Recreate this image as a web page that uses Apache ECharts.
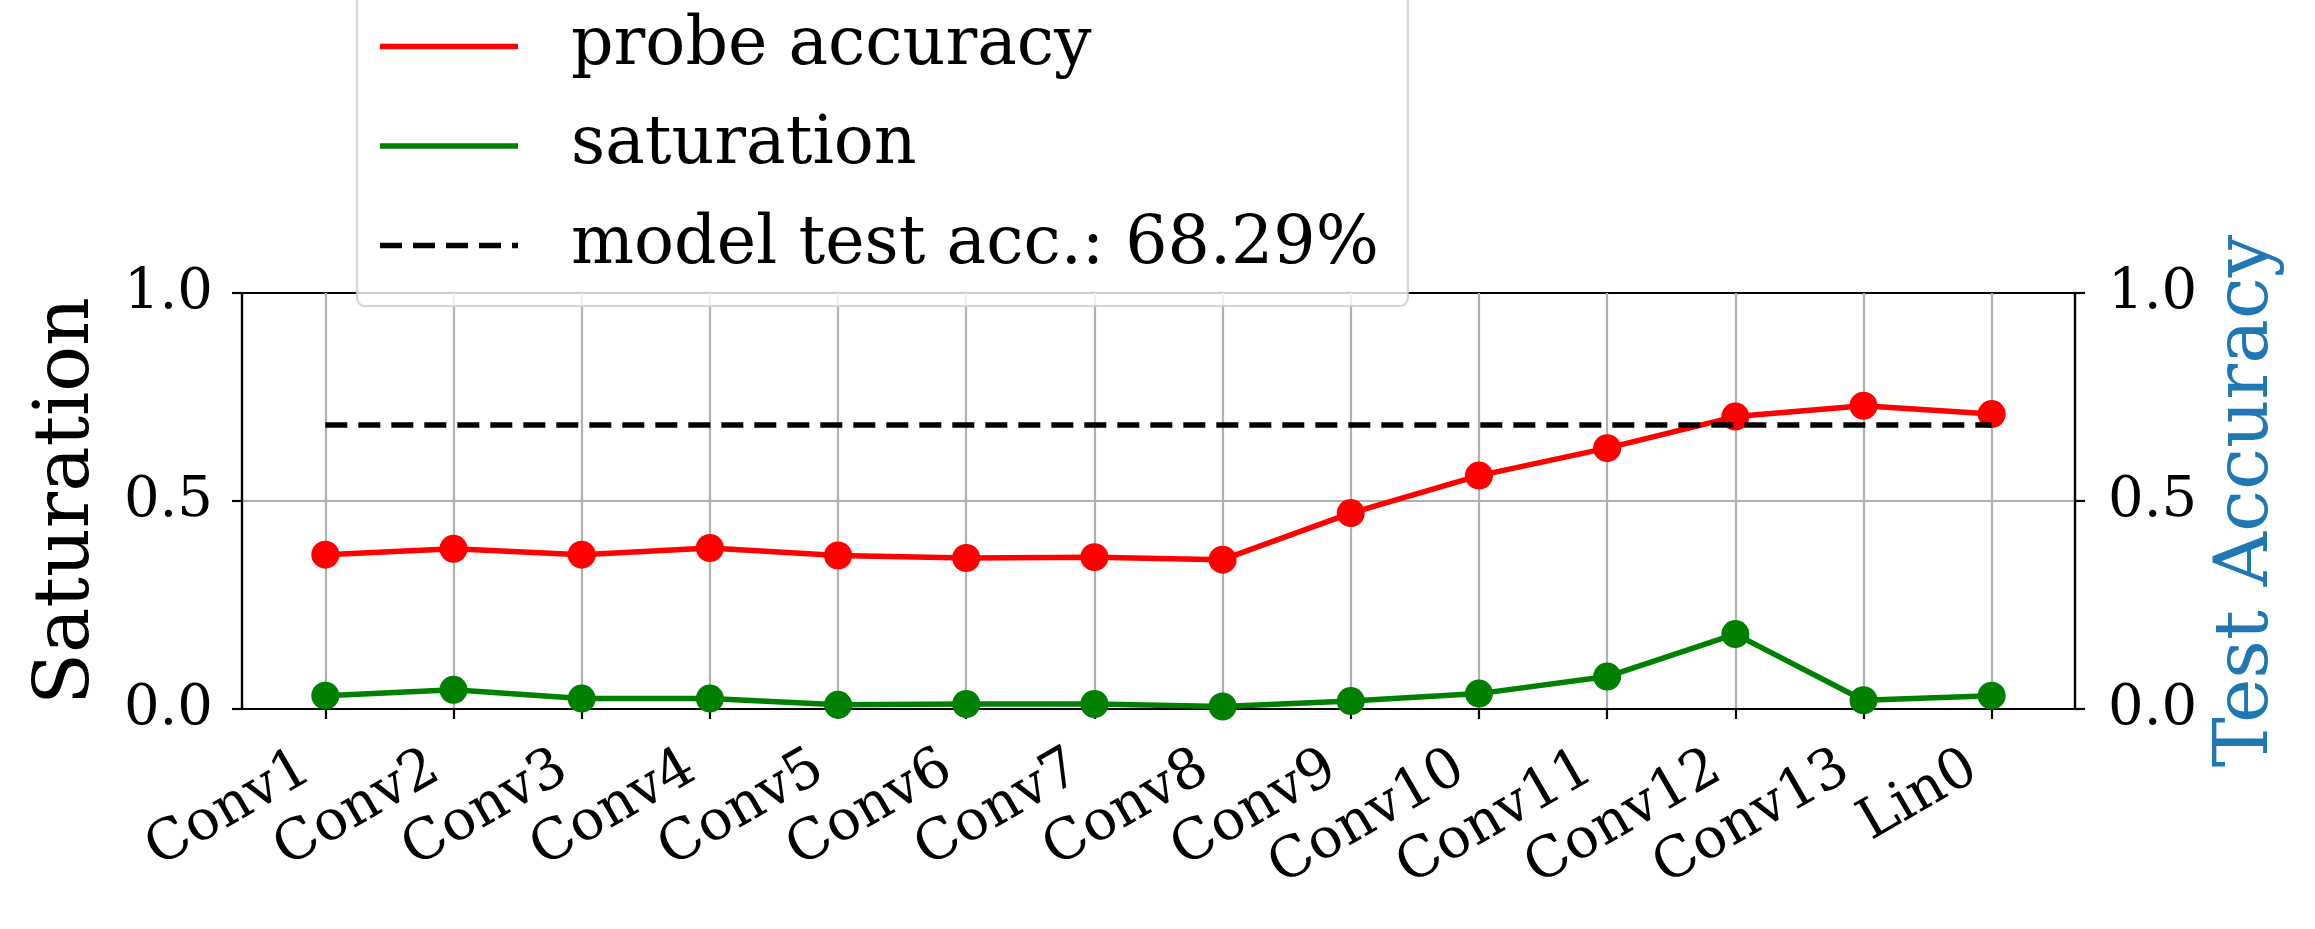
<!DOCTYPE html>
<html>
<head>
<meta charset="utf-8">
<script src="https://cdn.jsdelivr.net/npm/echarts@6/dist/echarts.min.js"></script>
<style>
html,body{margin:0;padding:0;background:#fff;}
#chart{width:2315px;height:929px;}
</style>
</head>
<body>
<div id="chart"></div>
<script>
const categories = ['Conv1','Conv2','Conv3','Conv4','Conv5','Conv6','Conv7','Conv8','Conv9','Conv10','Conv11','Conv12','Conv13','Lin0'];
const probeAccuracy = [0.371,0.385,0.371,0.387,0.369,0.363,0.365,0.359,0.471,0.561,0.627,0.703,0.729,0.709];
const saturation = [0.032,0.046,0.025,0.025,0.010,0.012,0.012,0.006,0.019,0.037,0.078,0.180,0.021,0.032];
const modelTestAcc = 0.6829;

const idx = categories.map((c, i) => i);
const FONT = 'DejaVu Serif';
const accName = 'model test acc.: ' + (modelTestAcc * 100).toFixed(2) + '%';

const chart = echarts.init(document.getElementById('chart'), null, {renderer: 'canvas'});
const option = {
  animation: false,
  backgroundColor: '#ffffff',
  grid: {
    left: 242, right: 240, top: 293, bottom: 220,
    show: true, borderColor: '#000', borderWidth: 2.2, backgroundColor: 'transparent'
  },
  legend: {
    orient: 'vertical',
    left: 357,
    top: -17,
    padding: [30, 29, 27, 23],
    itemWidth: 138,
    itemHeight: 5.5,
    itemGap: 32.5,
    backgroundColor: 'rgba(255,255,255,0.8)',
    borderColor: 'rgba(204,204,204,0.8)',
    borderWidth: 2.2,
    borderRadius: 8,
    selectedMode: false,
    z: 10,
    textStyle: {fontFamily: FONT, fontSize: 66.5, color: '#000', lineHeight: 66, padding: [0, 0, 0, 48]},
    data: [
      {name: 'probe accuracy', icon: 'path://M0,0H138V5.5H0Z'},
      {name: 'saturation', icon: 'path://M0,0H138V5.5H0Z'},
      {name: accName,
       icon: 'path://M0,0H22V5.5H0Z M33,0H55V5.5H33Z M66,0H88V5.5H66Z M99,0H121V5.5H99Z M132,0H138V5.5H132Z'}
    ]
  },
  xAxis: {
    type: 'value',
    min: -0.65,
    max: 13.65,
    axisLine: {show: true, onZero: false, lineStyle: {color: '#000', width: 2.2}},
    axisTick: {show: true, customValues: idx, length: 10, lineStyle: {color: '#000', width: 2.2}},
    axisLabel: {
      customValues: idx,
      formatter: v => categories[Math.round(v)],
      rotate: 30,
      margin: 45,
      fontFamily: FONT, fontSize: 56, color: '#000',
      padding: [0, 21, 0, 0]
    },
    splitLine: {show: true, lineStyle: {color: '#b0b0b0', width: 2.2}}
  },
  yAxis: [
    {
      type: 'value', min: 0, max: 1, interval: 0.5, position: 'left',
      name: 'Saturation', nameLocation: 'middle', nameRotate: 90, nameGap: 136,
      nameTextStyle: {fontFamily: FONT, fontSize: 76, color: '#000'},
      axisLine: {show: true, onZero: false, lineStyle: {color: '#000', width: 2.2}},
      axisTick: {show: true, length: 10, lineStyle: {color: '#000', width: 2.2}},
      axisLabel: {fontFamily: FONT, fontSize: 56, color: '#000', margin: 29, formatter: v => v.toFixed(1)},
      splitLine: {show: true, showMinLine: false, showMaxLine: false, lineStyle: {color: '#b0b0b0', width: 2.2}}
    },
    {
      type: 'value', min: 0, max: 1, interval: 0.5, position: 'right',
      name: 'Test Accuracy', nameLocation: 'middle', nameRotate: 90, nameGap: 135,
      nameTextStyle: {fontFamily: FONT, fontSize: 75, color: '#1f77b4'},
      axisLine: {show: true, onZero: false, lineStyle: {color: '#000', width: 2.2}},
      axisTick: {show: true, length: 10, lineStyle: {color: '#000', width: 2.2}},
      axisLabel: {fontFamily: FONT, fontSize: 56, color: '#000', margin: 33, formatter: v => v.toFixed(1)},
      splitLine: {show: false}
    }
  ],
  series: [
    {
      name: 'probe accuracy', type: 'line', yAxisIndex: 0,
      data: probeAccuracy.map((v, i) => [i, v]),
      symbol: 'circle', symbolSize: 28, showSymbol: true,
      itemStyle: {color: '#ff0000'},
      lineStyle: {color: '#ff0000', width: 5.5},
      z: 3
    },
    {
      name: 'saturation', type: 'line', yAxisIndex: 0,
      data: saturation.map((v, i) => [i, v]),
      symbol: 'circle', symbolSize: 28, showSymbol: true,
      itemStyle: {color: '#008000'},
      lineStyle: {color: '#008000', width: 5.5},
      z: 3
    },
    {
      name: accName, type: 'line', yAxisIndex: 0,
      data: [[0, modelTestAcc], [categories.length - 1, modelTestAcc]],
      showSymbol: false, symbol: 'none',
      itemStyle: {color: '#000'},
      lineStyle: {color: '#000', width: 5.5, type: [22, 11], cap: 'butt'},
      z: 4
    }
  ]
};
chart.setOption(option);
</script>
</body>
</html>
